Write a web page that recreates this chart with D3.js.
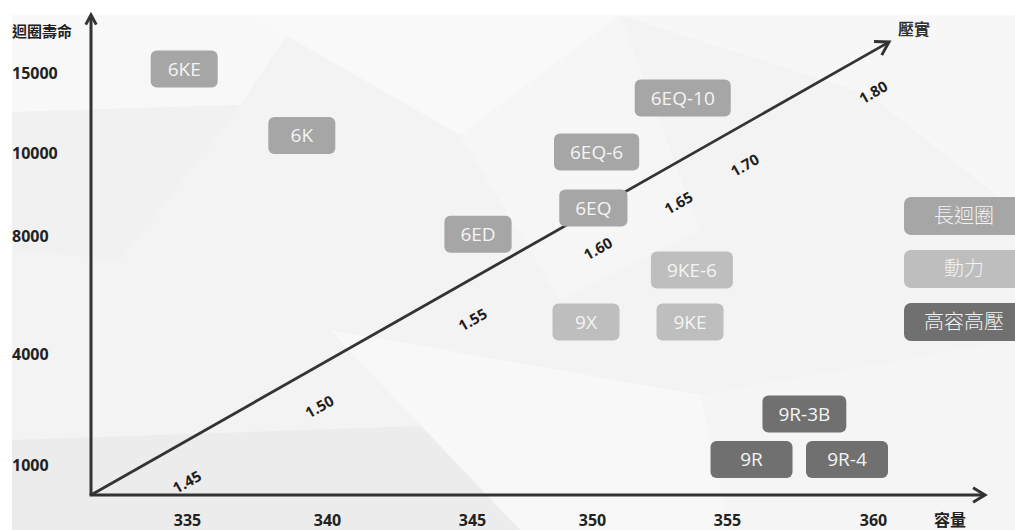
<!DOCTYPE html>
<html>
<head>
<meta charset="utf-8">
<script src="https://cdn.jsdelivr.net/npm/d3@7/dist/d3.min.js"></script>
<style>
  html, body { margin: 0; padding: 0; background: #ffffff; }
  svg { display: block; }
</style>
</head>
<body>
<svg id="chart" width="1015" height="530"></svg>
<script>
// ---------------- DATA ----------------
const capacityTicks = [335, 340, 345, 350, 355, 360];
const cycleTicks = [15000, 10000, 8000, 4000, 1000];
const pressureTicks = [1.45, 1.50, 1.55, 1.60, 1.65, 1.70, 1.80];
const pressureLabels = ["1.45", "1.50", "1.55", "1.60", "1.65", "1.70", "1.80"];

const models    = ["6KE", "6K", "6ED", "6EQ", "6EQ-6", "6EQ-10", "9X", "9KE", "9KE-6", "9R-3B", "9R", "9R-4"];
const capacity  = [334.9, 339.1, 345.25, 350.05, 350.17, 353.36, 349.75, 353.63, 353.7, 357.65, 355.84, 359.11];
const cycleLife = [15250, 11100, 8040, 8675, 10060, 13440, 5085, 5085, 6847, 2378, 1149, 1149];
const modelType = ["長迴圈", "長迴圈", "長迴圈", "長迴圈", "長迴圈", "長迴圈", "動力", "動力", "動力", "高容高壓", "高容高壓", "高容高壓"];

const typeNames = ["長迴圈", "動力", "高容高壓"];
const yAxisTitle = "迴圈壽命";
const xAxisTitle = "容量";
const diagTitle = "壓實";

// ---------------- LAYOUT / STYLE ----------------
const W = 1015, H = 530;
const origin = { x: 91, y: 495 };
const yTop = 15, xEnd = 985;
const diagTip = { x: 889, y: 42 };
const xStops = [187, 327, 472, 592, 727, 873];        // axis layout stops for capacity ticks
const yStops = [73, 153, 236, 354, 465];               // axis layout stops for cycle ticks
const pStops = [0.098, 0.264, 0.456, 0.613, 0.714, 0.797, 0.958]; // fraction along diagonal
const palette = ["#a6a6a6", "#bebebe", "#707070"];
const minBoxW = [67, 67, 82];
const boxH = 37;
const axisColor = "#333333";

const svg = d3.select("#chart");

// background facets
const bg = svg.append("g");
bg.append("rect").attr("x", 12).attr("y", 15).attr("width", W - 12).attr("height", H - 15).attr("fill", "#f3f3f3");
const facets = [
  { pts: [[12,15],[300,15],[240,105],[12,112]], c: "#f8f8f8" },
  { pts: [[250,15],[620,15],[460,135]], c: "#f9f9f9" },
  { pts: [[620,15],[1015,15],[1015,210],[870,95]], c: "#f7f7f7" },
  { pts: [[12,112],[240,105],[120,260],[12,250]], c: "#f1f1f1" },
  { pts: [[12,440],[450,425],[700,530],[12,530]], c: "#ececec" },
  { pts: [[330,330],[700,395],[730,530],[520,530]], c: "#f8f8f8" },
  { pts: [[700,395],[1015,340],[1015,530],[730,530]], c: "#f5f5f5" },
  { pts: [[460,135],[620,15],[700,230],[560,300]], c: "#f6f6f6" }
];
bg.selectAll("polygon").data(facets).join("polygon")
  .attr("points", d => d.pts.map(p => p.join(",")).join(" "))
  .attr("fill", d => d.c);

// scales
const x = d3.scaleLinear().domain(capacityTicks).range(xStops);
const y = d3.scaleLinear().domain(cycleTicks).range(yStops);
const diagLen = Math.hypot(diagTip.x - origin.x, diagTip.y - origin.y);
const along = d3.scaleLinear().domain(pressureTicks).range(pStops.map(f => f * diagLen));
const color = d3.scaleOrdinal().domain(typeNames).range(palette);
const minW = d3.scaleOrdinal().domain(typeNames).range(minBoxW);

const fontLatin = "'Open Sans', 'Noto Sans', sans-serif";
const fontCJK = "'Noto Sans CJK TC', 'Noto Sans CJK SC', sans-serif";

// axes labels via d3 axes
const gx = svg.append("g").attr("transform", `translate(0,${origin.y})`)
  .call(d3.axisBottom(x).tickValues(capacityTicks).tickFormat(d3.format("d")).tickSize(0).tickPadding(20));
gx.select(".domain").remove();
gx.selectAll("text").attr("font-family", fontLatin).attr("font-weight", 700).attr("font-size", 16).attr("fill", "#222");

const gy = svg.append("g").attr("transform", `translate(${origin.x},0)`)
  .call(d3.axisLeft(y).tickValues(cycleTicks).tickFormat(d3.format("d")).tickSize(0));
gy.select(".domain").remove();
gy.selectAll("text").attr("text-anchor", "start").attr("x", 12 - origin.x)
  .attr("font-family", fontLatin).attr("font-weight", 700).attr("font-size", 16).attr("fill", "#222");

// axis lines with chevron arrows
function chevron(tip, dir, size, spread) {
  const a = Math.atan2(dir[1], dir[0]);
  const p1 = [tip[0] - size * Math.cos(a - spread), tip[1] - size * Math.sin(a - spread)];
  const p2 = [tip[0] - size * Math.cos(a + spread), tip[1] - size * Math.sin(a + spread)];
  return `M${p1[0]},${p1[1]}L${tip[0]},${tip[1]}L${p2[0]},${p2[1]}`;
}
const lines = svg.append("g").attr("fill", "none").attr("stroke", axisColor).attr("stroke-linejoin", "miter");
lines.append("line").attr("x1", origin.x).attr("y1", origin.y).attr("x2", origin.x).attr("y2", yTop + 1).attr("stroke-width", 3);
lines.append("path").attr("d", chevron([origin.x, yTop], [0, -1], 11, 0.5)).attr("stroke-width", 3);
lines.append("line").attr("x1", origin.x - 1.5).attr("y1", origin.y).attr("x2", xEnd - 1).attr("y2", origin.y).attr("stroke-width", 3);
lines.append("path").attr("d", chevron([xEnd, origin.y], [1, 0], 14, 0.55)).attr("stroke-width", 3);
lines.append("line").attr("x1", origin.x).attr("y1", origin.y).attr("x2", diagTip.x - 1).attr("y2", diagTip.y + 0.6).attr("stroke-width", 2.8);
const ddir = [(diagTip.x - origin.x) / diagLen, (diagTip.y - origin.y) / diagLen];
lines.append("path").attr("d", chevron([diagTip.x, diagTip.y], ddir, 15, 0.55)).attr("stroke-width", 3);

// axis titles
svg.append("text").attr("x", 12).attr("y", 32).attr("dy", "0.36em").text(yAxisTitle)
  .attr("font-family", fontCJK).attr("font-weight", 700).attr("font-size", 15).attr("fill", "#222");
svg.append("text").attr("x", 950).attr("y", 520).attr("dy", "0.36em").attr("text-anchor", "middle").text(xAxisTitle)
  .attr("font-family", fontCJK).attr("font-weight", 700).attr("font-size", 16).attr("fill", "#222");
svg.append("text").attr("x", 914).attr("y", 29).attr("dy", "0.36em").attr("text-anchor", "middle").text(diagTitle)
  .attr("font-family", fontCJK).attr("font-weight", 700).attr("font-size", 16).attr("fill", "#333");

// pressure labels along the diagonal
const angleDeg = Math.atan2(ddir[1], ddir[0]) * 180 / Math.PI;
const normal = [-ddir[1], ddir[0]]; // points down-right
const offset = 36;
svg.append("g").selectAll("text").data(pressureTicks).join("text")
  .attr("transform", (d) => {
    const s = along(d);
    const px = origin.x + ddir[0] * s + normal[0] * offset;
    const py = origin.y + ddir[1] * s + normal[1] * offset;
    return `translate(${px},${py}) rotate(${angleDeg})`;
  })
  .attr("text-anchor", "middle").attr("dy", "0.36em")
  .attr("font-family", fontLatin).attr("font-weight", 700).attr("font-size", 15).attr("fill", "#1e1e1e")
  .text((d, i) => pressureLabels[i]);

// model boxes
const boxes = models.map((m, i) => ({ name: m, cap: capacity[i], cyc: cycleLife[i], type: modelType[i] }));
const gb = svg.append("g");
const bgs = gb.selectAll("g").data(boxes).join("g")
  .attr("transform", d => `translate(${x(d.cap)},${y(d.cyc)})`);
const rects = bgs.append("rect").attr("rx", 6).attr("ry", 6).attr("fill", d => color(d.type));
const labels = bgs.append("text").attr("text-anchor", "middle").attr("dy", "0.36em")
  .attr("font-family", fontLatin).attr("font-size", 19).attr("fill", "#f4f4f4")
  .text(d => d.name);
labels.each(function (d) { d.w = Math.max(minW(d.type), this.getComputedTextLength() + 32); });
rects.attr("x", d => -d.w / 2).attr("y", -boxH / 2).attr("width", d => d.w).attr("height", boxH);

// legend
const legendX = 904, legendW = 125, legendY0 = 216, legendStep = 53;
const lg = svg.append("g").selectAll("g").data(typeNames).join("g")
  .attr("transform", (d, i) => `translate(${legendX},${legendY0 + i * legendStep})`);
lg.append("rect").attr("x", 0).attr("y", -19).attr("width", legendW).attr("height", 38).attr("rx", 7)
  .attr("fill", d => color(d));
lg.append("text").attr("x", 60).attr("dy", "0.36em").attr("text-anchor", "middle")
  .attr("font-family", fontCJK).attr("font-weight", 300).attr("font-size", 20).attr("fill", "#f2f2f2")
  .text(d => d);
</script>
</body>
</html>
